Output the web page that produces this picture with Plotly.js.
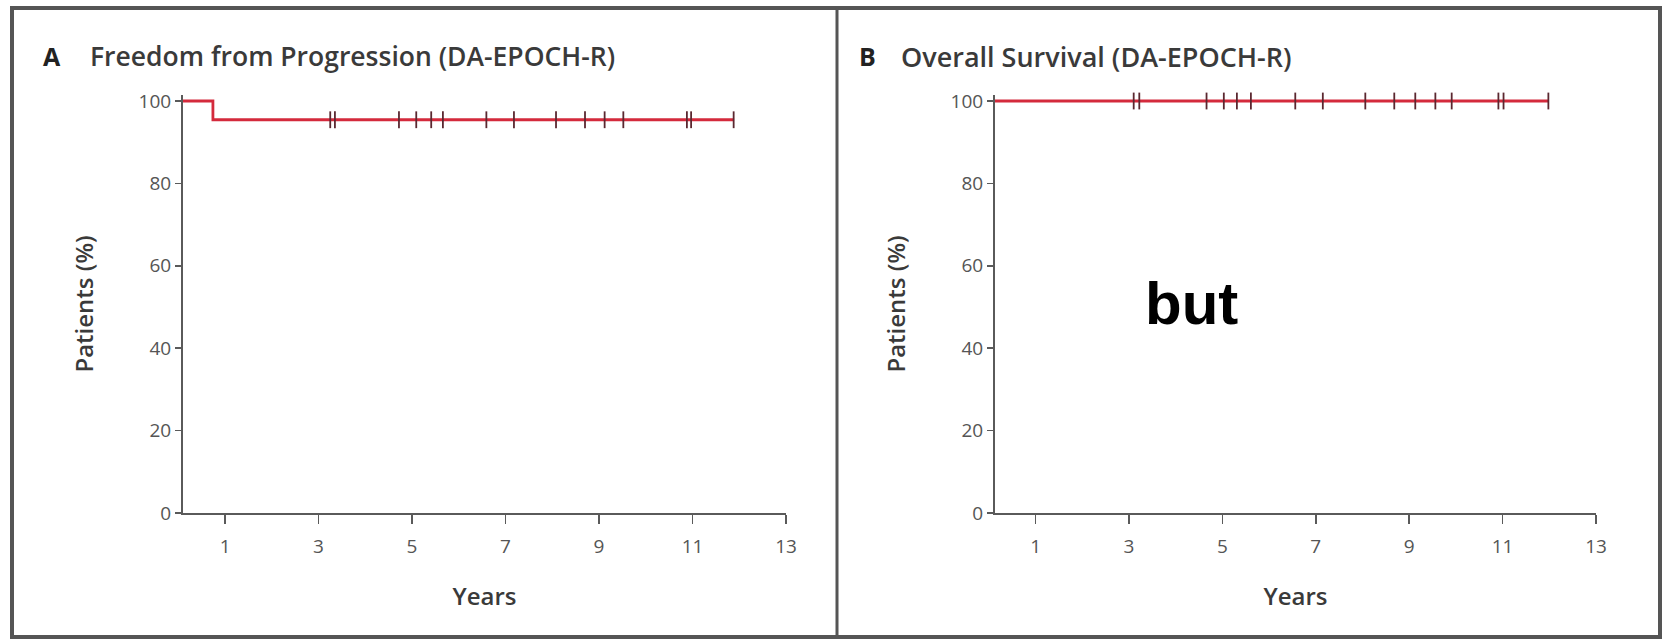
<!DOCTYPE html>
<html>
<head>
<meta charset="utf-8">
<script src="https://cdn.plot.ly/plotly-3.0.1.min.js"></script>
<style>
html,body{margin:0;padding:0;background:#fff;}
#chart{width:1665px;height:639px;}
</style>
</head>
<body>
<div id="chart"></div>
<script>
// ---- Data ----
const panelTitles = ["Freedom from Progression (DA-EPOCH-R)", "Overall Survival (DA-EPOCH-R)"];
const panelLetters = ["A", "B"];
const xTicks = [1, 3, 5, 7, 9, 11, 13];
const yTicks = [0, 20, 40, 60, 80, 100];

// Panel A: Kaplan-Meier step curve
const stepTimesA = [0, 0.74, 0.74, 11.89];
const stepValuesA = [100, 100, 95.45, 95.45];
const censorTimesA = [3.25, 3.35, 4.72, 5.09, 5.41, 5.66, 6.59, 7.18, 8.08, 8.70, 9.12, 9.52, 10.88, 10.97, 11.88];
const censorValueA = 95.45;

// Panel B: Kaplan-Meier step curve
const stepTimesB = [0, 11.98];
const stepValuesB = [100, 100];
const censorTimesB = [3.10, 3.22, 4.66, 5.03, 5.31, 5.61, 6.56, 7.15, 8.06, 8.68, 9.13, 9.56, 9.91, 10.91, 11.02, 11.98];
const censorValueB = 100;

const overlayText = "but";

// ---- Styling ----
const W = 1665, H = 639;
const px = v => v / W;
const py = v => 1 - v / H;
const lineRed = "#d42a3c";
const markDark = "#5b2830";
const axisGray = "#5a5a5a";
const textGray = "#3a3a3a";
const tickFont = {family: "Open Sans, sans-serif", size: 19, color: "#555"};
const titleFont = {family: "Open Sans, sans-serif", size: 24, color: textGray, weight: 600};

function stepTrace(x, y, xa, ya) {
  return {x: x, y: y, mode: "lines", type: "scatter", xaxis: xa, yaxis: ya,
    line: {color: lineRed, width: 2.8, shape: "linear"}, hoverinfo: "skip", showlegend: false};
}
function censorTrace(times, val, xa, ya) {
  return {x: times, y: times.map(() => val), mode: "markers", type: "scatter", xaxis: xa, yaxis: ya,
    marker: {symbol: "line-ns-open", size: 12, color: markDark, line: {color: markDark, width: 1.8}},
    cliponaxis: false, hoverinfo: "skip", showlegend: false};
}

const traces = [
  stepTrace(stepTimesA, stepValuesA, "x", "y"),
  censorTrace(censorTimesA, censorValueA, "x", "y"),
  stepTrace(stepTimesB, stepValuesB, "x2", "y2"),
  censorTrace(censorTimesB, censorValueB, "x2", "y2")
];

// pixel geometry
const y0px = 513, y100px = 101;
const perUnit = (y0px - y100px) / 100;
const yTopVal = 101.5;
const yTopPx = y0px - yTopVal * perUnit;

function xAxis(domain, rng) {
  return {domain: domain, range: rng, tickvals: xTicks, ticktext: xTicks.map(String),
    showgrid: false, zeroline: false, showline: true, linecolor: axisGray, linewidth: 2,
    ticks: "outside", ticklen: 9, tickwidth: 1.5, tickcolor: axisGray, tickfont: tickFont,
    ticklabelstandoff: 6,
    title: {text: "Years", font: titleFont, standoff: 30}, fixedrange: true};
}
function yAxis(domain, anchor) {
  return {domain: domain, range: [0, yTopVal], tickvals: yTicks, ticktext: yTicks.map(String),
    showgrid: false, zeroline: false, showline: true, linecolor: axisGray, linewidth: 2,
    ticks: "outside", ticklen: 6, tickwidth: 1.5, tickcolor: axisGray, tickfont: tickFont,
    title: {text: "Patients (%)", font: titleFont, standoff: 38}, anchor: anchor, fixedrange: true};
}

const yDomain = [py(y0px), py(yTopPx)];

const layout = {
  width: W, height: H,
  margin: {l: 0, r: 0, t: 0, b: 0},
  paper_bgcolor: "#ffffff", plot_bgcolor: "#ffffff",
  showlegend: false,
  xaxis: Object.assign(xAxis([px(183), px(786)], [0.1, 13]), {anchor: "y"}),
  yaxis: yAxis(yDomain, "x"),
  xaxis2: Object.assign(xAxis([px(995), px(1596)], [0.13, 13]), {anchor: "y2"}),
  yaxis2: yAxis(yDomain, "x2"),
  shapes: [
    {type: "rect", xref: "paper", yref: "paper", x0: px(12), x1: px(1660), y0: py(637), y1: py(8),
      line: {color: "#555", width: 4}, fillcolor: "rgba(0,0,0,0)", layer: "below"},
    {type: "line", xref: "paper", yref: "paper", x0: px(837), x1: px(837), y0: py(637), y1: py(8),
      line: {color: "#555", width: 3}}
  ],
  annotations: [
    {xref: "paper", yref: "paper", x: px(41), y: py(56), xanchor: "left", yanchor: "middle", showarrow: false,
      text: "<b>" + panelLetters[0] + "</b>", font: {family: "Open Sans, sans-serif", size: 25, color: "#222"}},
    {xref: "paper", yref: "paper", x: px(88), y: py(56), xanchor: "left", yanchor: "middle", showarrow: false,
      text: panelTitles[0], font: {family: "Open Sans, sans-serif", size: 26.5, color: textGray, weight: 600}},
    {xref: "paper", yref: "paper", x: px(857), y: py(56), xanchor: "left", yanchor: "middle", showarrow: false,
      text: "<b>" + panelLetters[1] + "</b>", font: {family: "Open Sans, sans-serif", size: 25, color: "#222"}},
    {xref: "paper", yref: "paper", x: px(899), y: py(56), xanchor: "left", yanchor: "middle", showarrow: false,
      text: panelTitles[1], font: {family: "Open Sans, sans-serif", size: 27, color: textGray, weight: 600}},
    {xref: "paper", yref: "paper", x: px(1191), y: py(303), xanchor: "center", yanchor: "middle", showarrow: false,
      text: "<b>" + overlayText + "</b>", font: {family: "Liberation Sans, Arial, sans-serif", size: 60, color: "#000"}}
  ]
};

Plotly.newPlot("chart", traces, layout, {displayModeBar: false, staticPlot: true});
</script>
</body>
</html>
